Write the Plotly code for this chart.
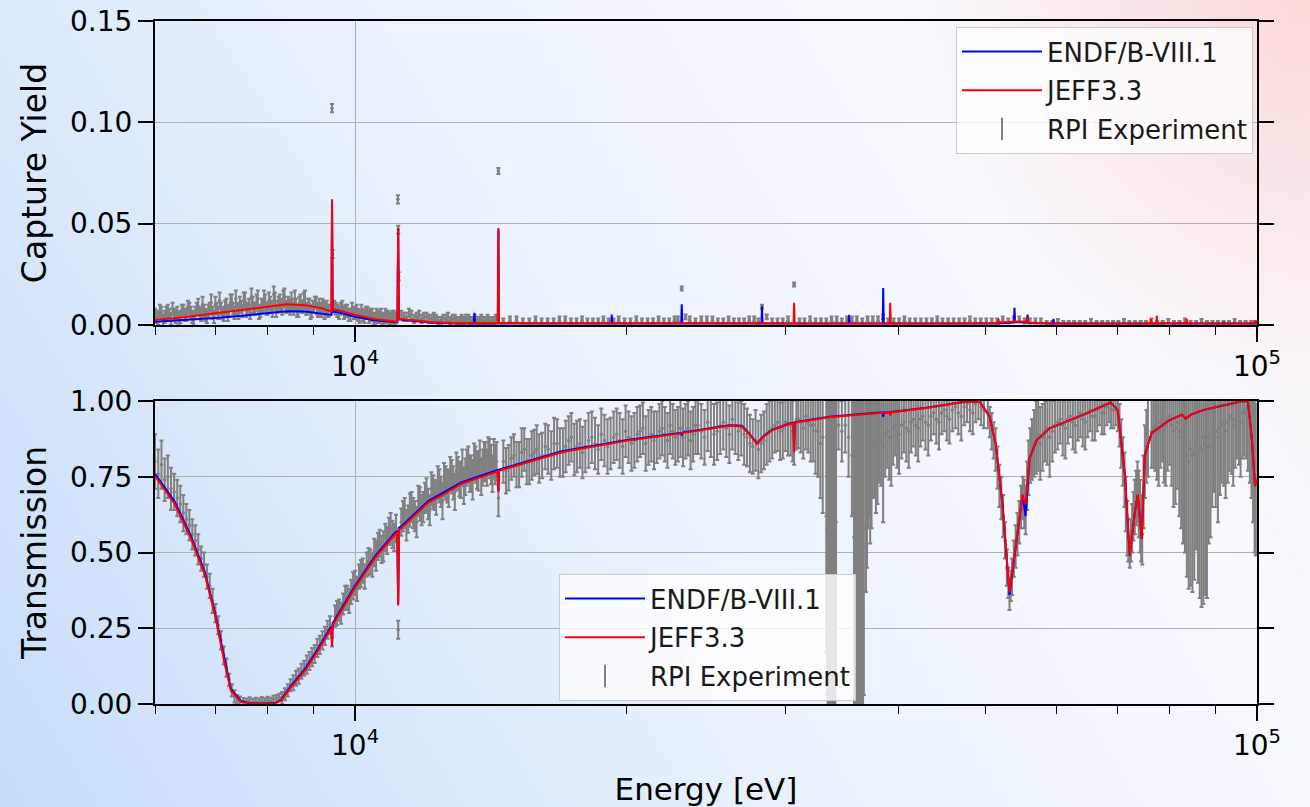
import base64
import math
import plotly.graph_objects as go

# ---------------- Capture yield (top panel) ----------------
cap_E = [6000, 6500, 7000, 7500, 8000, 8400, 8800, 9200, 9380, 9415, 9428, 9445, 9600,
         10000, 10500, 11000, 11140, 11163, 11185, 11600, 12200, 13000,
         13540, 13561, 13585, 14395, 14418, 14440, 16000,
         19230, 19256, 19280, 22990, 23024, 23060, 28220, 28260, 28300,
         30630, 30673, 30715, 35250, 35297, 35345, 38460, 38510, 38560,
         39160, 39208, 39260, 45000, 51600, 51678, 51760, 53760, 53842, 53920,
         55580, 55670, 55760, 59400, 59480, 59560, 70000, 76150, 76240, 76330,
         77350, 77426, 77500, 83500, 83576, 83650, 91850, 91920, 92000,
         99300, 99490, 100000]
cap_endf = [0.0016, 0.0024, 0.0035, 0.0046, 0.0058, 0.0068, 0.0066, 0.0056, 0.0049, 0.0050, 0.0610, 0.0066, 0.0062,
            0.0040, 0.0024, 0.0014, 0.0013, 0.0470, 0.0028, 0.0020, 0.0011, 0.0008,
            0.0008, 0.0060, 0.0008, 0.0008, 0.0470, 0.0008, 0.0008,
            0.0007, 0.0052, 0.0007, 0.0007, 0.0102, 0.0007, 0.0007, 0.0092, 0.0007,
            0.0007, 0.0008, 0.0007, 0.0007, 0.0050, 0.0007, 0.0007, 0.0182, 0.0007,
            0.0007, 0.0008, 0.0007, 0.0007, 0.0007, 0.0010, 0.0008, 0.0012, 0.0085, 0.0014,
            0.0012, 0.0052, 0.0010, 0.0007, 0.0030, 0.0007, 0.0006, 0.0007, 0.0009, 0.0007,
            0.0007, 0.0010, 0.0007, 0.0007, 0.0010, 0.0007, 0.0007, 0.0016, 0.0007,
            0.0007, 0.0012, 0.0007]
cap_jeff = [0.0025, 0.0040, 0.0058, 0.0074, 0.0090, 0.0102, 0.0098, 0.0082, 0.0068, 0.0068, 0.0620, 0.0076, 0.0072,
            0.0050, 0.0030, 0.0017, 0.0016, 0.0480, 0.0030, 0.0024, 0.0014, 0.0010,
            0.0010, 0.0010, 0.0010, 0.0010, 0.0478, 0.0010, 0.0009,
            0.0009, 0.0009, 0.0009, 0.0009, 0.0009, 0.0009, 0.0008, 0.0008, 0.0008,
            0.0008, 0.0110, 0.0008, 0.0008, 0.0008, 0.0008, 0.0008, 0.0008, 0.0008,
            0.0008, 0.0110, 0.0008, 0.0008, 0.0010, 0.0030, 0.0012, 0.0016, 0.0025, 0.0018,
            0.0016, 0.0035, 0.0012, 0.0008, 0.0008, 0.0008, 0.0007, 0.0008, 0.0030, 0.0008,
            0.0009, 0.0045, 0.0009, 0.0009, 0.0030, 0.0009, 0.0008, 0.0009, 0.0008,
            0.0008, 0.0020, 0.0008]

# RPI capture data, set A
cap_exp_E = [6000, 6050, 6100, 6150, 6200, 6250, 6300, 6350, 6400, 6450,
             6500, 6550, 6600, 6650, 6700, 6750, 6800, 6850, 6900, 6950,
             7000, 7050, 7100, 7150, 7200, 7250, 7300, 7350, 7400, 7450,
             7500, 7550, 7600, 7650, 7700, 7750, 7800, 7850, 7900, 7950,
             8000, 8050, 8100, 8150, 8200, 8250, 8300, 8350, 8400, 8450,
             8500, 8550, 8600, 8650, 8700, 8750, 8800, 8850, 8900, 8950,
             9000, 9050, 9100, 9150, 9200, 9250, 9300, 9350,
             9428, 9440,
             9480, 9560, 9640, 9720, 9800, 9880, 9960, 10040, 10120, 10200,
             10280, 10360, 10440, 10520, 10600, 10680, 10760, 10840, 10920, 11000, 11080,
             11155, 11165, 11175,
             11250, 11400, 11550, 11700, 11850, 12000, 12150, 12300, 12450, 12600,
             12750, 12900, 13050, 13200, 13350, 13500, 13650, 13800, 13950, 14100, 14250,
             14418,
             14600, 15100, 15600, 16100, 16600, 17100, 17600, 18100, 18600, 19100,
             19600, 20200, 20800, 21400, 22000, 22600, 23024, 23500, 24200, 24900,
             25600, 26300, 27000, 27700, 28260, 29000, 29800, 30673, 31500, 32400,
             33300, 34200, 35100, 36000, 37000, 38000, 39000, 40100, 41200, 42400,
             43600, 44800, 46100, 47400, 48700, 50100, 51500, 53000, 54500, 56000,
             57600, 59300, 61000, 62700, 64500, 66400, 68300, 70200, 72200, 74300,
             76400, 78600, 80900, 83200, 85600, 88000, 90500, 93100, 95800, 98500]
cap_exp_Y = [.005, .003, .006, .004, .007, .003, .005, .006, .004, .007,
             .005, .008, .004, .006, .009, .005, .007, .004, .008, .006,
             .010, .006, .008, .005, .009, .007, .011, .006, .008, .010,
             .007, .012, .008, .006, .010, .008, .013, .007, .009, .011,
             .008, .010, .007, .012, .009, .011, .008, .014, .009, .010,
             .012, .008, .010, .007, .011, .009, .013, .008, .010, .007,
             .009, .011, .007, .008, .010, .006, .009, .007,
             .107, .035,
             .009, .007, .008, .006, .007, .005, .006, .007, .004, .005,
             .006, .004, .005, .003, .004, .005, .003, .004, .003, .004, .003,
             .062, .047, .024,
             .005, .004, .005, .004, .003, .004, .003, .003, .002, .003,
             .002, .003, .002, .002, .003, .002, .002, .003, .002, .002, .002,
             .076,
             .002, .003, .002, .002, .002, .003, .002, .002, .002, .002,
             .003, .002, .002, .002, .002, .003, .018, .003, .003, .003,
             .002, .002, .002, .003, .009, .002, .002, .020, .002, .002,
             .002, .003, .003, .003, .003, .003, .002, .002, .002, .002,
             .002, .002, .002, .002, .002, .002, .002, .002, .003, .002,
             .002, .001, .001, .001, .001, .001, .001, .001, .001, .001,
             .002, .001, .001, .002, .001, .001, .001, .001, .001, .001]
cap_exp_err = [.003, .003, .003, .003, .003, .003, .003, .003, .003, .003,
               .003, .003, .003, .003, .004, .003, .003, .003, .003, .003,
               .004, .003, .003, .003, .004, .003, .004, .003, .003, .004,
               .003, .004, .003, .003, .004, .003, .004, .003, .003, .004,
               .003, .004, .003, .004, .003, .004, .003, .004, .003, .003,
               .004, .003, .003, .003, .004, .003, .004, .003, .003, .003,
               .003, .003, .003, .003, .003, .003, .003, .003,
               .002, .002,
               .003, .003, .003, .003, .003, .003, .003, .003, .003, .003,
               .003, .003, .003, .003, .003, .003, .003, .003, .003, .003, .003,
               .002, .002, .002,
               .002, .002, .002, .002, .002, .002, .002, .002, .002, .002,
               .002, .002, .002, .002, .002, .002, .002, .002, .002, .002, .002,
               .0015,
               .0012, .0012, .0012, .0012, .0012, .0012, .0012, .0012, .0012, .0012,
               .0012, .0012, .0012, .0012, .0012, .0012, .0010, .0012, .0012, .0012,
               .0012, .0012, .0012, .0012, .0010, .0012, .0012, .0010, .0012, .0012,
               .0012, .0012, .0012, .0012, .0012, .0012, .0012, .0012, .0012, .0012,
               .0012, .0012, .0012, .0012, .0012, .0012, .0012, .0012, .0012, .0012,
               .0012, .0010, .0010, .0010, .0010, .0010, .0010, .0010, .0010, .0010,
               .0012, .0010, .0010, .0012, .0010, .0010, .0010, .0010, .0010, .0010]

# RPI capture data, set B (interleaved channels)
cap_exp2_E = [6025, 6075, 6125, 6175, 6225, 6275, 6325, 6375, 6425, 6475,
              6525, 6575, 6625, 6675, 6725, 6775, 6825, 6875, 6925, 6975,
              7025, 7075, 7125, 7175, 7225, 7275, 7325, 7375, 7425, 7475,
              7525, 7575, 7625, 7675, 7725, 7775, 7825, 7875, 7925, 7975,
              8025, 8075, 8125, 8175, 8225, 8275, 8325, 8375, 8425, 8475,
              8525, 8575, 8625, 8675, 8725, 8775, 8825, 8875, 8925, 8975,
              9025, 9075, 9125, 9175, 9225, 9275, 9325,
              9520, 9600, 9680, 9760, 9840, 9920, 10000, 10080, 10160, 10240,
              10320, 10400, 10480, 10560, 10640, 10720, 10800, 10880, 10960, 11040,
              11325, 11475, 11625, 11775, 11925, 12075, 12225, 12375, 12525, 12675,
              12825, 12975, 13125, 13275, 13425, 13575, 13725, 13875, 14025, 14175, 14325,
              14850, 15350, 15850, 16350, 16850, 17350, 17850, 18350, 18850, 19350,
              19900, 20500, 21100, 21700, 22300, 22800, 23250, 23850, 24550, 25250,
              25950, 26650, 27350, 28000, 28600, 29400, 30200, 31100, 31950, 32850,
              33750, 34650, 35550, 36500, 37500, 38500, 39550, 40650, 41800, 43000,
              44200, 45450, 46750, 48050, 49400, 50800, 52250, 53750, 55250, 56800,
              58450, 60150, 61850, 63600, 65450, 67350, 69250, 71200, 73250, 75350,
              77500, 79750, 82050, 84400, 86800, 89250, 91800, 94450, 97150, 99500]
cap_exp2_Y = [.004, .007, .002, .006, .005, .008, .004, .003, .007, .005,
              .009, .006, .003, .008, .006, .010, .005, .007, .011, .004,
              .008, .012, .006, .009, .005, .011, .008, .013, .006, .009,
              .012, .007, .010, .014, .008, .011, .006, .010, .013, .008,
              .012, .009, .015, .007, .011, .010, .013, .009, .011, .008,
              .010, .013, .007, .011, .009, .012, .008, .010, .006, .009,
              .011, .008, .010, .007, .009, .008, .007,
              .008, .006, .009, .007, .005, .008, .006, .005, .007, .004,
              .006, .005, .003, .005, .004, .003, .005, .004, .003, .004,
              .004, .006, .003, .005, .004, .003, .004, .002, .003, .004,
              .003, .002, .003, .003, .002, .003, .002, .002, .003, .002, .003,
              .003, .002, .003, .002, .003, .002, .003, .002, .003, .002,
              .002, .003, .002, .003, .002, .003, .004, .002, .003, .002,
              .003, .002, .003, .002, .004, .002, .003, .002, .003, .002,
              .003, .002, .003, .002, .003, .004, .002, .003, .002, .002,
              .003, .002, .002, .003, .002, .002, .003, .003, .002, .002,
              .001, .002, .001, .001, .002, .001, .001, .002, .001, .001,
              .001, .002, .001, .001, .002, .001, .001, .002, .001, .001]
cap_exp2_err = [.003, .003, .003, .003, .003, .003, .003, .003, .003, .003,
                .003, .003, .003, .003, .003, .004, .003, .003, .004, .003,
                .003, .004, .003, .003, .003, .004, .003, .004, .003, .003,
                .004, .003, .003, .004, .003, .004, .003, .003, .004, .003,
                .004, .003, .004, .003, .003, .003, .004, .003, .003, .003,
                .003, .004, .003, .003, .003, .004, .003, .003, .003, .003,
                .003, .003, .003, .003, .003, .003, .003,
                .003, .003, .003, .003, .003, .003, .003, .003, .003, .003,
                .003, .003, .003, .003, .003, .003, .003, .003, .003, .003,
                .002, .002, .002, .002, .002, .002, .002, .002, .002, .002,
                .002, .002, .002, .002, .002, .002, .002, .002, .002, .002, .002,
                .0012, .0012, .0012, .0012, .0012, .0012, .0012, .0012, .0012, .0012,
                .0012, .0012, .0012, .0012, .0012, .0012, .0012, .0012, .0012, .0012,
                .0012, .0012, .0012, .0012, .0012, .0012, .0012, .0012, .0012, .0012,
                .0012, .0012, .0012, .0012, .0012, .0012, .0012, .0012, .0012, .0012,
                .0012, .0012, .0012, .0012, .0012, .0012, .0012, .0012, .0012, .0012,
                .0010, .0010, .0010, .0010, .0010, .0010, .0010, .0010, .0010, .0010,
                .0010, .0010, .0010, .0010, .0010, .0010, .0010, .0010, .0010, .0010]

# ---------------- Transmission (bottom panel) ----------------
tr_E = [6000, 6310, 6573, 6813, 6990, 7172, 7283, 7470, 7664, 7906, 8149, 8276, 8490, 8801, 9097,
        9380, 9412, 9428, 9445, 9470, 10000, 10524, 11076, 11135, 11163, 11190, 11250,
        12052, 12589, 13116, 14304, 14390, 14418, 14446, 14530, 16940, 20110,
        22990, 23024, 23060, 25970, 26850, 27400, 27900, 28400, 28990, 30280,
        30620, 30673, 30730, 30830, 33550, 38150, 38450, 38510, 38570, 39150, 39208, 39270,
        43000, 47500, 49230, 50504, 51300, 52214, 53161, 54117, 54954, 55377, 55948, 56960,
        58884, 64232, 68822, 70069, 71354, 72254, 73183, 73750, 74506, 75089, 76434,
        79840, 82540, 83370, 84500, 87096, 96462, 97724, 98726, 99490, 100000]
tr_endf = [0.760, 0.668, 0.556, 0.436, 0.304, 0.138, 0.050, 0.010, 0.002, 0.002, 0.003, 0.014, 0.060, 0.116, 0.182,
           0.250, 0.254, 0.195, 0.268, 0.272, 0.390, 0.488, 0.566, 0.570, 0.330, 0.582, 0.586,
           0.670, 0.700, 0.731, 0.770, 0.772, 0.705, 0.774, 0.776, 0.834, 0.872,
           0.895, 0.886, 0.896, 0.920, 0.918, 0.890, 0.860, 0.885, 0.905, 0.926,
           0.928, 0.840, 0.930, 0.931, 0.948, 0.962, 0.962, 0.948, 0.962, 0.963, 0.963, 0.964,
           0.978, 0.998, 0.999, 0.950, 0.860, 0.660, 0.360, 0.535, 0.690, 0.620, 0.810, 0.870,
           0.910, 0.955, 0.995, 0.970, 0.760, 0.490, 0.630, 0.690, 0.545, 0.820, 0.895,
           0.935, 0.955, 0.942, 0.955, 0.970, 1.000, 0.998, 0.870, 0.720, 0.740]
tr_jeff = [0.752, 0.660, 0.548, 0.428, 0.296, 0.130, 0.044, 0.007, 0.001, 0.001, 0.002, 0.011, 0.055, 0.110, 0.176,
           0.244, 0.248, 0.190, 0.262, 0.266, 0.384, 0.482, 0.560, 0.564, 0.325, 0.576, 0.580,
           0.665, 0.695, 0.727, 0.766, 0.768, 0.700, 0.770, 0.772, 0.831, 0.870,
           0.893, 0.894, 0.894, 0.918, 0.916, 0.888, 0.858, 0.883, 0.903, 0.924,
           0.926, 0.832, 0.928, 0.929, 0.946, 0.960, 0.960, 0.960, 0.960, 0.961, 0.952, 0.962,
           0.977, 0.997, 0.998, 0.950, 0.860, 0.660, 0.370, 0.535, 0.690, 0.660, 0.810, 0.870,
           0.910, 0.955, 0.995, 0.970, 0.760, 0.490, 0.630, 0.690, 0.545, 0.820, 0.895,
           0.935, 0.955, 0.942, 0.955, 0.970, 1.000, 0.998, 0.870, 0.720, 0.740]

# RPI transmission data, set A
tr_exp_E = [6000, 6050, 6100, 6150, 6200, 6250, 6300, 6350, 6400, 6450,
            6500, 6550, 6600, 6650, 6700, 6750, 6800, 6850, 6900, 6950,
            7000, 7050, 7100, 7150, 7200, 7250, 7300, 7350, 7400, 7450,
            7520, 7580, 7640, 7700, 7760, 7820, 7880, 7940, 8000, 8060, 8120, 8180, 8240,
            8300, 8360, 8420, 8480, 8540, 8600, 8660, 8720, 8780, 8840,
            8900, 8960, 9020, 9080, 9140, 9200, 9260, 9320, 9380,
            9430,
            9500, 9600, 9700, 9800, 9900, 10000, 10100, 10200, 10300, 10400,
            10500, 10600, 10700, 10800, 10900, 11000, 11100,
            11163,
            11250, 11350, 11450, 11550, 11650, 11750, 11850, 11950, 12050, 12150,
            12250, 12350, 12450, 12550, 12650, 12750, 12850, 12950, 13050, 13150,
            13250, 13350, 13450, 13550, 13650, 13750, 13850, 13950, 14050, 14150,
            14250, 14350,
            14418,
            14600, 14800, 15000, 15200, 15400, 15600, 15800, 16000, 16250, 16500,
            16750, 17000, 17250, 17500, 17750, 18000, 18300, 18600, 18900, 19200,
            19500, 19800, 20100, 20400, 20700, 21000, 21300, 21600, 21900, 22200,
            22500, 22800, 23100, 23400, 23700, 24000, 24400, 24800, 25200, 25600,
            26000, 26400, 26800, 27200, 27600, 28000, 28400, 28800, 29200, 29600,
            30000, 30400, 30673, 31000, 31400, 31800, 32200, 32600, 33000,
            33300, 33420, 33540, 33660, 33780, 33900, 34020, 34140,
            34350, 34650, 34950, 35250, 35550,
            35740, 35870, 36000, 36130, 36260, 36390, 36520, 36650,
            36850, 37050, 37250, 37500, 37800, 38100, 38500, 38900, 39300, 39700,
            40100, 40600, 41100, 41600, 42100, 42600, 43200, 43800, 44400, 45000,
            45600, 46300, 47000, 47700, 48400, 49100, 49800,
            50300, 50800, 51300, 51800, 52300, 52800, 53161, 53500, 54000, 54500,
            55000, 55400, 55800, 56300, 56900, 57500, 58200, 58900,
            59700, 60500, 61300, 62100, 62900, 63700, 64500, 65300, 66100, 66900,
            67700, 68500, 69300,
            70100, 70700, 71300, 71800, 72254, 72700, 73200, 73700, 74200, 74600,
            75100, 75700,
            76400, 77100, 77800, 78500, 79200, 80000, 80800, 81600, 82400, 83200,
            84000, 84800, 85600, 86400, 87200, 88000, 88800, 89600, 90500, 91400,
            92300, 93200, 94100, 95000, 95900, 96800, 97700, 98600, 99400]
tr_exp_T = [.80, .76, .79, .74, .75, .71, .70, .68, .66, .63,
            .61, .59, .56, .54, .51, .48, .46, .42, .39, .34,
            .30, .26, .21, .16, .12, .08, .045, .025, .015, .010,
            .008, .006, .010, .005, .009, .006, .011, .007, .012, .009, .015, .018, .022,
            .020, .032, .045, .062, .070, .085, .092, .108, .118, .130,
            .142, .155, .165, .185, .195, .210, .225, .245, .260,
            .22,
            .29, .31, .33, .35, .37, .40, .42, .44, .46, .47,
            .50, .52, .51, .55, .57, .56, .58,
            .245,
            .60, .63, .61, .65, .62, .67, .64, .68, .66, .71,
            .69, .73, .70, .74, .72, .76, .73, .77, .74, .78,
            .75, .79, .76, .80, .77, .81, .78, .80, .82, .79,
            .81, .80,
            .68,
            .80, .78, .82, .79, .84, .80, .83, .81, .85, .82,
            .86, .83, .87, .84, .86, .85, .88, .84, .87, .86,
            .89, .85, .88, .87, .90, .86, .89, .88, .91, .87,
            .90, .89, .88, .91, .89, .92, .88, .91, .90, .93,
            .89, .92, .91, .88, .85, .84, .87, .90, .92, .90,
            .93, .92, .86, .94, .91, .93, .92, .90, .88,
            .62, .55, .50, .52, .48, .55, .50, .60,
            .92, .90, .92, .88, .82,
            .55, .50, .52, .48, .55, .50, .53, .58,
            .72, .80, .78, .85, .83, .88, .85, .90, .88, .92,
            .89, .93, .90, .94, .91, .95, .92, .96, .93, .97,
            .94, .98, .95, .99, .96, 1.00, .97,
            .96, .90, .84, .72, .62, .45, .36, .42, .52, .60,
            .68, .64, .78, .84, .88, .86, .90, .88,
            .92, .94, .91, .95, .92, .96, .93, .97, .95, .98,
            .96, .99, .97,
            .96, .86, .74, .58, .50, .58, .65, .70, .62, .56,
            .80, .88,
            .90, .92, .90, .94, .92, .95, .90, .93, .88, .85,
            .80, .82, .86, .85, .88, .85, .85, .92, .88, .93,
            .90, .95, .92, .96, .93, .97, .95, .88, .75]
tr_exp_err = [.09, .08, .08, .07, .07, .07, .06, .06, .06, .06,
              .05, .05, .05, .05, .05, .04, .04, .04, .04, .04,
              .03, .03, .03, .03, .03, .02, .02, .02, .015, .015,
              .012, .012, .012, .012, .012, .012, .012, .012, .012, .012, .012, .012, .012,
              .02, .02, .02, .02, .025, .025, .025, .025, .025, .03,
              .03, .03, .03, .03, .03, .03, .03, .03, .03,
              .03,
              .035, .035, .035, .04, .04, .04, .04, .04, .04, .04,
              .045, .045, .045, .045, .045, .045, .045,
              .03,
              .045, .05, .045, .05, .05, .05, .05, .05, .05, .055,
              .05, .055, .05, .055, .055, .055, .055, .06, .055, .06,
              .06, .06, .06, .06, .06, .06, .06, .065, .06, .065,
              .065, .065,
              .06,
              .07, .075, .07, .075, .07, .075, .075, .08, .075, .08,
              .08, .08, .08, .085, .08, .085, .085, .08, .085, .085,
              .085, .09, .085, .09, .085, .09, .09, .085, .09, .09,
              .09, .09, .095, .09, .09, .095, .09, .095, .095, .09,
              .095, .095, .09, .095, .09, .095, .095, .10, .09, .095,
              .095, .10, .07, .095, .10, .10, .12, .15, .25,
              .45, .58, .62, .60, .65, .60, .62, .50,
              .08, .10, .09, .13, .20,
              .60, .62, .60, .65, .60, .62, .60, .55,
              .35, .22, .25, .17, .20, .15, .25, .12, .16, .10,
              .13, .10, .12, .09, .11, .08, .10, .07, .09, .07,
              .08, .07, .08, .06, .07, .06, .06,
              .05, .06, .07, .07, .07, .06, .05, .06, .07, .07,
              .07, .08, .09, .10, .12, .12, .10, .13,
              .09, .08, .10, .07, .09, .08, .09, .07, .08, .06,
              .07, .06, .06,
              .06, .08, .09, .09, .05, .08, .09, .10, .12, .10,
              .12, .13,
              .12, .15, .18, .14, .20, .16, .25, .22, .30, .35,
              .42, .45, .35, .50, .55, .50, .30, .22, .28, .20,
              .22, .18, .20, .15, .18, .15, .18, .20, .25]

# RPI transmission data, set B (interleaved channels)
tr_exp2_E = [9550, 9650, 9750, 9850, 9950, 10050, 10150, 10250, 10350, 10450,
             10550, 10650, 10750, 10850, 10950, 11050,
             11300, 11400, 11500, 11600, 11700, 11800, 11900, 12000, 12100, 12200,
             12300, 12400, 12500, 12600, 12700, 12800, 12900, 13000, 13100, 13200,
             13300, 13400, 13500, 13600, 13700, 13800, 13900, 14000, 14100, 14200,
             14300,
             14700, 14900, 15100, 15300, 15500, 15700, 15900, 16120, 16370, 16620,
             16870, 17120, 17370, 17620, 17870, 18150, 18450, 18750, 19050, 19350,
             19650, 19950, 20250, 20550, 20850, 21150, 21450, 21750, 22050, 22350,
             22650, 22950, 23250, 23550, 23850, 24200, 24600, 25000, 25400, 25800,
             26200, 26600, 27000, 27400, 27800, 28200, 28600, 29000, 29400, 29800,
             30200, 30550, 30850, 31200, 31600, 32000, 32400, 32800,
             33360, 33480, 33600, 33720, 33840, 33960, 34080,
             35800, 35930, 36060, 36190, 36320, 36450, 36580,
             36950, 37150, 37380, 37650, 37950, 38300, 38700, 39100, 39500, 39900,
             40350, 40850, 41350, 41850, 42350, 42900, 43500, 44100, 44700, 45300,
             45950, 46650, 47350, 48050, 48750, 49450,
             50550, 51050, 51550, 52050, 52550, 53000, 53330, 53750, 54250, 54750,
             55200, 55600, 56050, 56600, 57200, 57850, 58550, 59300, 60100, 60900,
             61700, 62500, 63300, 64100, 64900, 65700, 66500, 67300, 68100, 68900,
             69700,
             70400, 71000, 71550, 72000, 72480, 72950, 73450, 73950, 74400, 74850,
             75400,
             76750, 77450, 78150, 78850, 79600, 80400, 81200, 82000, 82800, 83600,
             84400, 85200, 86000, 86800, 87600, 88400, 89200, 90000, 91000, 91900,
             92800, 93700, 94600, 95500, 96400, 97300, 98200, 99000, 99700]
tr_exp2_T = [.30, .30, .35, .34, .39, .38, .43, .42, .47, .46,
             .49, .53, .52, .54, .58, .55,
             .62, .59, .64, .63, .60, .66, .65, .69, .64, .70,
             .68, .72, .67, .73, .71, .75, .70, .76, .74, .72,
             .78, .76, .74, .79, .77, .75, .80, .78, .81, .76,
             .79,
             .77, .81, .79, .83, .80, .82, .84, .82, .84, .86,
             .83, .85, .88, .85, .83, .87, .86, .89, .85, .88,
             .87, .90, .86, .89, .91, .88, .87, .90, .89, .92,
             .88, .91, .90, .87, .92, .90, .93, .89, .92, .91,
             .94, .90, .89, .86, .87, .86, .89, .91, .93, .91,
             .92, .90, .94, .93, .95, .92, .90, .86,
             .58, .52, .50, .55, .50, .53, .55,
             .53, .50, .55, .50, .52, .55, .52,
             .75, .82, .80, .86, .84, .87, .89, .88, .91, .90,
             .92, .91, .93, .92, .94, .93, .95, .94, .96, .95,
             .97, .96, .98, .97, .99, .98,
             .93, .87, .78, .68, .54, .40, .39, .48, .56, .65,
             .66, .72, .82, .86, .89, .88, .91, .90, .93, .92,
             .94, .93, .95, .94, .96, .95, .97, .96, .98, .97,
             .98,
             .92, .80, .66, .54, .54, .62, .68, .66, .58, .70,
             .85,
             .91, .90, .93, .91, .94, .92, .91, .90, .86, .82,
             .84, .83, .85, .84, .86, .88, .90, .90, .91, .92,
             .93, .94, .94, .95, .96, .96, .93, .82, .74]
tr_exp2_err = [.04, .035, .04, .04, .045, .04, .045, .04, .045, .04,
               .05, .045, .05, .045, .05, .045,
               .05, .05, .055, .05, .05, .055, .05, .055, .05, .055,
               .055, .055, .06, .055, .06, .055, .06, .055, .06, .06,
               .06, .06, .065, .06, .065, .06, .065, .06, .065, .06,
               .065,
               .075, .07, .075, .08, .075, .08, .08, .075, .08, .085,
               .08, .085, .08, .085, .085, .09, .085, .085, .09, .085,
               .09, .085, .09, .09, .085, .09, .095, .09, .09, .095,
               .09, .095, .09, .095, .095, .09, .095, .10, .095, .095,
               .10, .095, .10, .095, .10, .095, .10, .10, .095, .10,
               .10, .10, .10, .10, .11, .12, .14, .18,
               .55, .60, .62, .62, .60, .62, .60,
               .60, .62, .60, .62, .62, .60, .60,
               .30, .20, .22, .18, .18, .15, .14, .14, .12, .12,
               .11, .11, .10, .10, .09, .09, .08, .08, .07, .08,
               .07, .07, .06, .07, .06, .06,
               .05, .06, .07, .07, .06, .05, .05, .06, .07, .07,
               .08, .08, .09, .11, .12, .11, .12, .10, .09, .10,
               .08, .09, .08, .09, .08, .08, .07, .07, .06, .06,
               .06,
               .07, .08, .09, .07, .07, .08, .09, .11, .11, .12,
               .12,
               .13, .16, .15, .18, .17, .20, .25, .28, .33, .40,
               .45, .42, .45, .52, .50, .35, .25, .25, .22, .20,
               .20, .18, .16, .16, .15, .15, .20, .22, .25]

x_major = [1e4, 1e5]
x_major_text = ["10<sup>4</sup>", "10<sup>5</sup>"]
x_minor = [6000, 7000, 8000, 9000, 20000, 30000, 40000, 50000, 60000, 70000, 80000, 90000]
cap_ticks = [0.0, 0.05, 0.10, 0.15]
tr_ticks = [0.0, 0.25, 0.50, 0.75, 1.00]


def fit(*lists):
    n = min(len(l) for l in lists)
    return [l[:n] for l in lists]


cap_E, cap_endf, cap_jeff = fit(cap_E, cap_endf, cap_jeff)
cap_exp_E, cap_exp_Y, cap_exp_err = fit(cap_exp_E, cap_exp_Y, cap_exp_err)
cap_exp2_E, cap_exp2_Y, cap_exp2_err = fit(cap_exp2_E, cap_exp2_Y, cap_exp2_err)
tr_E, tr_endf, tr_jeff = fit(tr_E, tr_endf, tr_jeff)
tr_exp_E, tr_exp_T, tr_exp_err = fit(tr_exp_E, tr_exp_T, tr_exp_err)
tr_exp2_E, tr_exp2_T, tr_exp2_err = fit(tr_exp2_E, tr_exp2_T, tr_exp2_err)

FONT = "DejaVu Sans"
GRAY = "#808080"
fig = go.Figure()


def add_panel(xa, ya, leg, E, endf, jeff, eE, eY, eErr):
    fig.add_trace(go.Scatter(
        x=eE, y=eY, mode="markers", name="RPI Experiment", showlegend=False,
        marker=dict(color=GRAY, size=3.5),
        error_y=dict(type="data", array=eErr, visible=True, color=GRAY, thickness=2, width=2),
        xaxis=xa, yaxis=ya, legend=leg, legendgroup=leg + "c"))
    fig.add_trace(go.Scatter(
        x=E, y=endf, mode="lines", name="ENDF/B-VIII.1",
        line=dict(color="#0000ff", width=2),
        xaxis=xa, yaxis=ya, legend=leg, legendrank=1, legendgroup=leg + "a"))
    fig.add_trace(go.Scatter(
        x=E, y=jeff, mode="lines", name="JEFF3.3",
        line=dict(color="#ff0000", width=2),
        xaxis=xa, yaxis=ya, legend=leg, legendrank=2, legendgroup=leg + "b"))
    # legend entry for the experiment drawn as an error-bar glyph
    fig.add_trace(go.Scatter(
        x=[None], y=[None], mode="markers", name="RPI Experiment",
        marker=dict(symbol="line-ns", size=18, color=GRAY, line=dict(color=GRAY, width=2)),
        xaxis=xa, yaxis=ya, legend=leg, legendrank=3, legendgroup=leg + "c"))


add_panel("x", "y", "legend", cap_E, cap_endf, cap_jeff,
          cap_exp_E + cap_exp2_E, cap_exp_Y + cap_exp2_Y, cap_exp_err + cap_exp2_err)
add_panel("x2", "y2", "legend2", tr_E, tr_endf, tr_jeff,
          tr_exp_E + tr_exp2_E, tr_exp_T + tr_exp2_T, tr_exp_err + tr_exp2_err)

W, H = 1310, 807
ML, MR, MT, MB = 155, 53, 21, 103
PW, PH = W - ML - MR, H - MT - MB


def xaxis(anchor, title=None):
    d = dict(type="log", range=[math.log10(6000), 5], anchor=anchor, domain=[0, 1],
             automargin=False,
             tickmode="array", tickvals=x_major, ticktext=x_major_text,
             ticks="outside", ticklen=15, tickwidth=1.5, tickcolor="black",
             showline=True, linewidth=2, linecolor="black", mirror=True,
             showgrid=True, gridcolor="#b0b0b0", gridwidth=1,
             tickfont=dict(family=FONT, size=28, color="black"),
             minor=dict(tickmode="array", tickvals=x_minor, ticks="outside", ticklen=8,
                        tickwidth=1.2, tickcolor="black", showgrid=False))
    if title:
        d["title"] = dict(text=title, font=dict(family=FONT, size=31, color="black"), standoff=20)
    return d


def yaxis(anchor, dom, rng, tv, title):
    return dict(range=rng, anchor=anchor, domain=dom, automargin=False,
                tickmode="array", tickvals=tv,
                tickformat=".2f", ticks="outside", ticklen=15, tickwidth=1.5, tickcolor="black",
                showline=True, linewidth=2, linecolor="black", mirror="ticks",
                showgrid=True, gridcolor="#b0b0b0", gridwidth=1, zeroline=False,
                tickfont=dict(family=FONT, size=28, color="black"),
                title=dict(text=title, font=dict(family=FONT, size=33, color="black"), standoff=14))


top_dom = [(704 - 325) / PH, 1.0]
bot_dom = [0.0, (704 - 401) / PH]

bg_svg = (
    '<svg xmlns="http://www.w3.org/2000/svg" width="1350" height="847" viewBox="-20 -20 1350 847" '
    'preserveAspectRatio="none"><defs>'
    '<linearGradient id="a" gradientUnits="userSpaceOnUse" x1="0" y1="807" x2="1310" y2="0">'
    '<stop offset="0" stop-color="#c6ddf9"/><stop offset="0.45" stop-color="#eaf2fd"/>'
    '<stop offset="0.75" stop-color="#f7f9fe"/><stop offset="1" stop-color="#fcf3f4"/></linearGradient>'
    '<radialGradient id="b" gradientUnits="userSpaceOnUse" cx="1310" cy="0" r="380">'
    '<stop offset="0" stop-color="#fbd9d9" stop-opacity="1"/>'
    '<stop offset="1" stop-color="#fbd9d9" stop-opacity="0"/></radialGradient></defs>'
    '<rect x="-20" y="-20" width="1350" height="847" fill="url(#a)"/>'
    '<rect x="-20" y="-20" width="1350" height="847" fill="url(#b)"/></svg>')
bg_uri = "data:image/svg+xml;base64," + base64.b64encode(bg_svg.encode()).decode()

legend_common = dict(bgcolor="rgba(255,255,255,0.8)", bordercolor="#cccccc", borderwidth=1,
                     font=dict(family=FONT, size=26, color="#1a1a1a"),
                     traceorder="grouped", tracegroupgap=2, itemwidth=80)

fig.update_layout(
    width=W, height=H,
    margin=dict(l=ML, r=MR, t=MT, b=MB, autoexpand=False),
    paper_bgcolor="#eaf2fd", plot_bgcolor="rgba(0,0,0,0)",
    font=dict(family=FONT, color="black"),
    xaxis=xaxis("y"),
    xaxis2=xaxis("y2", "Energy [eV]"),
    yaxis=yaxis("x", top_dom, [0, 0.15], cap_ticks, "Capture Yield"),
    yaxis2=yaxis("x2", bot_dom, [0, 1.0], tr_ticks, "Transmission"),
    legend=dict(x=(1253 - ML) / PW, xanchor="right", y=(704 - 27) / PH, yanchor="top", **legend_common),
    legend2=dict(x=(559 - ML) / PW, xanchor="left", y=(704 - 701) / PH, yanchor="bottom", **legend_common),
    images=[dict(source=bg_uri, xref="paper", yref="paper", x=-(ML + 20) / PW, y=1 + (MT + 20) / PH,
                 sizex=(W + 40) / PW, sizey=(H + 40) / PH, xanchor="left", yanchor="top",
                 sizing="stretch", layer="below")],
    showlegend=True,
)

fig.write_html("out.html", config={"displayModeBar": False},
               post_script="document.body.style.margin='0';document.body.style.overflow='hidden';")
